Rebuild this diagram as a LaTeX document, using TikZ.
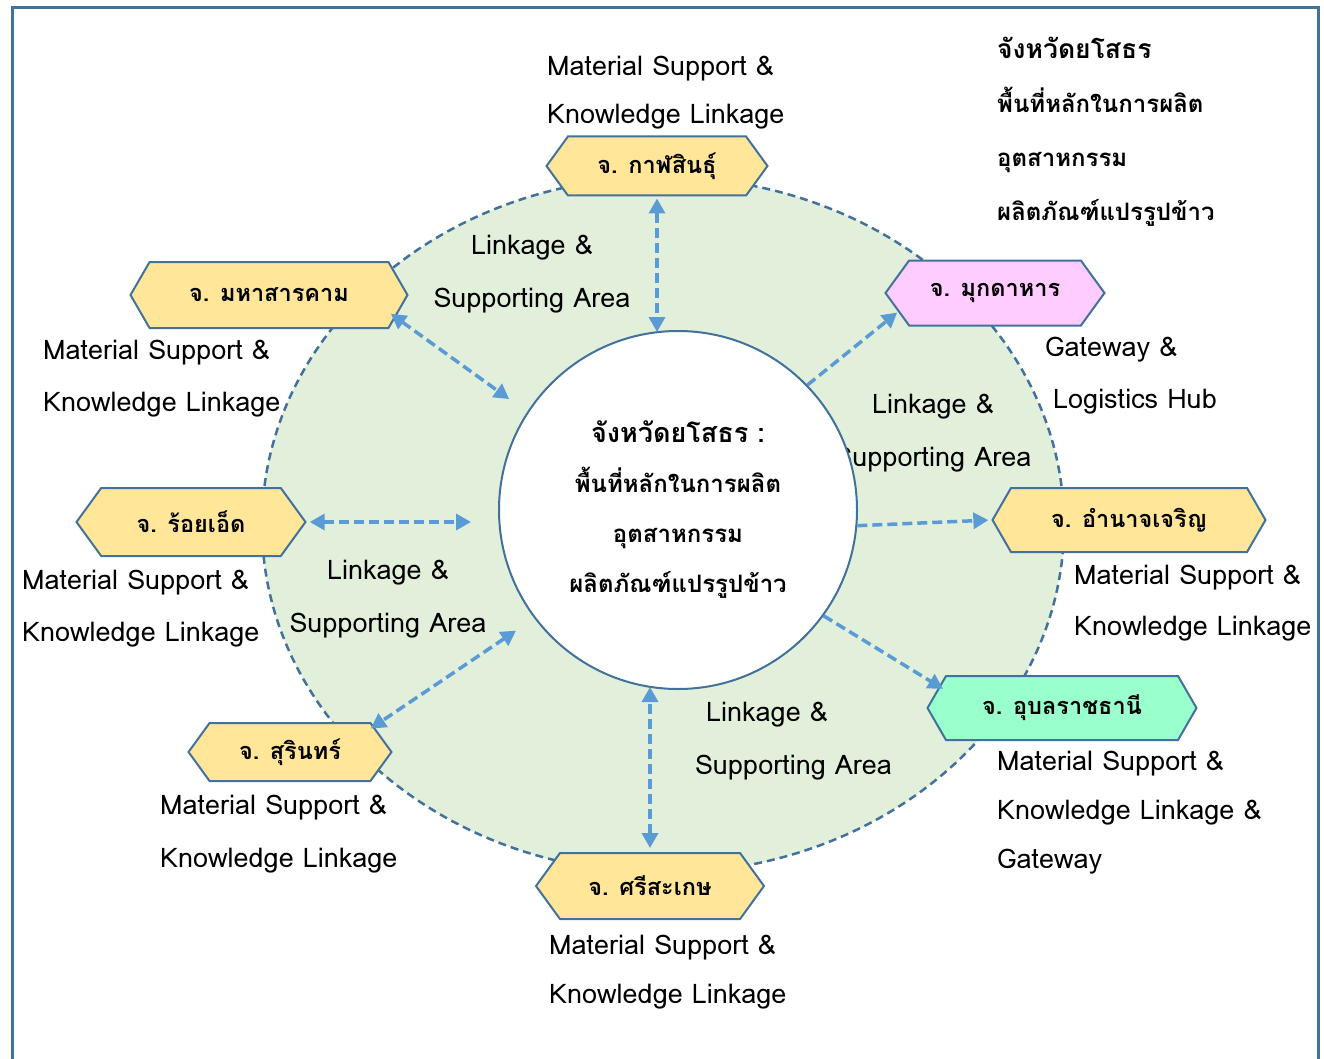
\documentclass[tikz,border=0pt]{standalone}
\usepackage{fontspec}
\setmainfont[Script=Thai]{Loma}
\usetikzlibrary{positioning,arrows.meta,shapes.symbols}

\definecolor{frameblue}{HTML}{41719C}
\definecolor{areagreen}{HTML}{E2EFDA}
\definecolor{provyellow}{HTML}{FFE699}
\definecolor{provpink}{HTML}{FFCCFF}
\definecolor{provmint}{HTML}{99FFCC}
\definecolor{linkblue}{HTML}{5B9BD5}

\tikzset{
  hexbox/.style={signal, signal to=west and east, signal pointer angle=108,
    draw=frameblue, line width=2pt, fill=provyellow, inner sep=0pt,
    font=\bfseries\fontsize{23.5}{26}\selectfont},
  hexwide/.style={hexbox, signal pointer angle=120},
  infotext/.style={align=left, anchor=west, inner sep=0pt,
    font=\fontsize{27}{52}\selectfont},
  linktext/.style={align=center, inner sep=0pt,
    font=\fontsize{27}{53}\selectfont},
  flow/.style={draw=linkblue, line width=3.5pt, dash pattern=on 10pt off 5pt,
    -{Triangle[length=15pt,width=16pt]}},
  flowboth/.style={flow, {Triangle[length=15pt,width=16pt]}-{Triangle[length=15pt,width=16pt]}},
}

\begin{document}
\begin{tikzpicture}[x=1pt,y=-1pt]
  \useasboundingbox (0,0) rectangle (1324,1059);

  % frame and supporting area
  \draw[frameblue, line width=3pt] (12,1080) -- (12,8) -- (1318,8) -- (1318,1080);
  \draw[frameblue, fill=areagreen, line width=2.5pt, dash pattern=on 8pt off 5pt]
    (663,525) ellipse [x radius=401pt, y radius=348pt];

  % linkage labels (under the core circle)
  \node[linktext] (lkTop) at (532,274) {Linkage \&\\Supporting Area};
  \node[linktext] (lkRight) at (933,433) {Linkage \&\\Supporting Area};
  \node[linktext] (lkLeft) at (388,599) {Linkage \&\\Supporting Area};
  \node[linktext, align=left, anchor=west] (lkBottom) at (695,741) {\hspace{11pt}Linkage \&\\Supporting Area};

  % core province
  \node[circle, draw=frameblue, fill=white, line width=2pt, minimum size=358pt,
    align=center, font=\bfseries\fontsize{24}{50}\selectfont] (core) at (678,510)
    {{\fontsize{27}{50}\selectfont จังหวัดยโสธร :}\\พื้นที่หลักในการผลิต\\อุตสาหกรรม\\ผลิตภัณฑ์แปรรูปข้าว};

  % provinces
  \node[hexbox, minimum width=221pt, minimum height=59pt] (kalasin) at (657,166) {จ. กาฬสินธุ์};
  \node[hexwide, minimum width=277pt, minimum height=66pt] (maha) at (269,295) {จ. มหาสารคาม};
  \node[hexbox, fill=provpink, minimum width=219pt, minimum height=65pt] (mukda) at (995,293) {จ. มุกดาหาร};
  \node[hexbox, minimum width=229pt, minimum height=68pt] (roiet) at (191,522) {จ. ร้อยเอ็ด};
  \node[hexwide, minimum width=273pt, minimum height=64pt] (amnat) at (1129,520) {จ. อำนาจเจริญ};
  \node[hexwide, fill=provmint, minimum width=269pt, minimum height=64pt] (ubon) at (1062,708) {จ. อุบลราชธานี};
  \node[hexbox, minimum width=203pt, minimum height=58pt] (surin) at (290,752) {จ. สุรินทร์};
  \node[hexbox, minimum width=228pt, minimum height=66pt] (sisaket) at (650,886) {จ. ศรีสะเกษ};

  % roles
  \node[infotext, font=\fontsize{27}{48}\selectfont] (kalasinRole) at (547,93) {Material Support \&\\Knowledge Linkage};
  \node[infotext] (mahaRole) at (43,379) {Material Support \&\\Knowledge Linkage};
  \node[infotext] (mukdaRole) at (1045,376) {Gateway \&\\\hspace{8pt}Logistics Hub};
  \node[infotext] (roietRole) at (22,609) {Material Support \&\\Knowledge Linkage};
  \node[infotext, font=\fontsize{27}{51}\selectfont] (amnatRole) at (1074,603) {Material Support \&\\Knowledge Linkage};
  \node[infotext, font=\fontsize{27}{49}\selectfont] (ubonRole) at (997,813) {Material Support \&\\Knowledge Linkage \&\\Gateway};
  \node[infotext, font=\fontsize{27}{53}\selectfont] (surinRole) at (160,834) {Material Support \&\\Knowledge Linkage};
  \node[infotext, font=\fontsize{27}{49}\selectfont] (sisaketRole) at (549,972) {Material Support \&\\Knowledge Linkage};

  % title
  \node[infotext, anchor=north west, font=\bfseries\fontsize{24}{54}\selectfont] (title) at (997,37)
    {{\fontsize{26.5}{54}\selectfont จังหวัดยโสธร}\\พื้นที่หลักในการผลิต\\อุตสาหกรรม\\ผลิตภัณฑ์แปรรูปข้าว};

  % links
  \draw[flowboth, shorten <=2pt, shorten >=-2pt] (kalasin.south) -- (kalasin.south |- core.north);
  \draw[flowboth, shorten <=-6pt, shorten >=22pt] (maha.-10) -- (core.147);
  \draw[flow, shorten >=1pt] (core.44) -- (mukda.191);
  \draw[flowboth, shorten <=3pt, shorten >=27pt] (roiet.east) -- (roiet.east -| core.west);
  \draw[flow, shorten >=3pt] (core.-5) -- (amnat.west);
  \draw[flow, shorten >=-5pt] (core.-36) -- (ubon.170);
  \draw[flowboth, shorten <=4pt, shorten >=-3pt] (sisaket.north) -- (sisaket.north |- core.south);
  \draw[flowboth, shorten <=22pt, shorten >=-4pt] (core.217) -- (surin.17);
\end{tikzpicture}
\end{document}
